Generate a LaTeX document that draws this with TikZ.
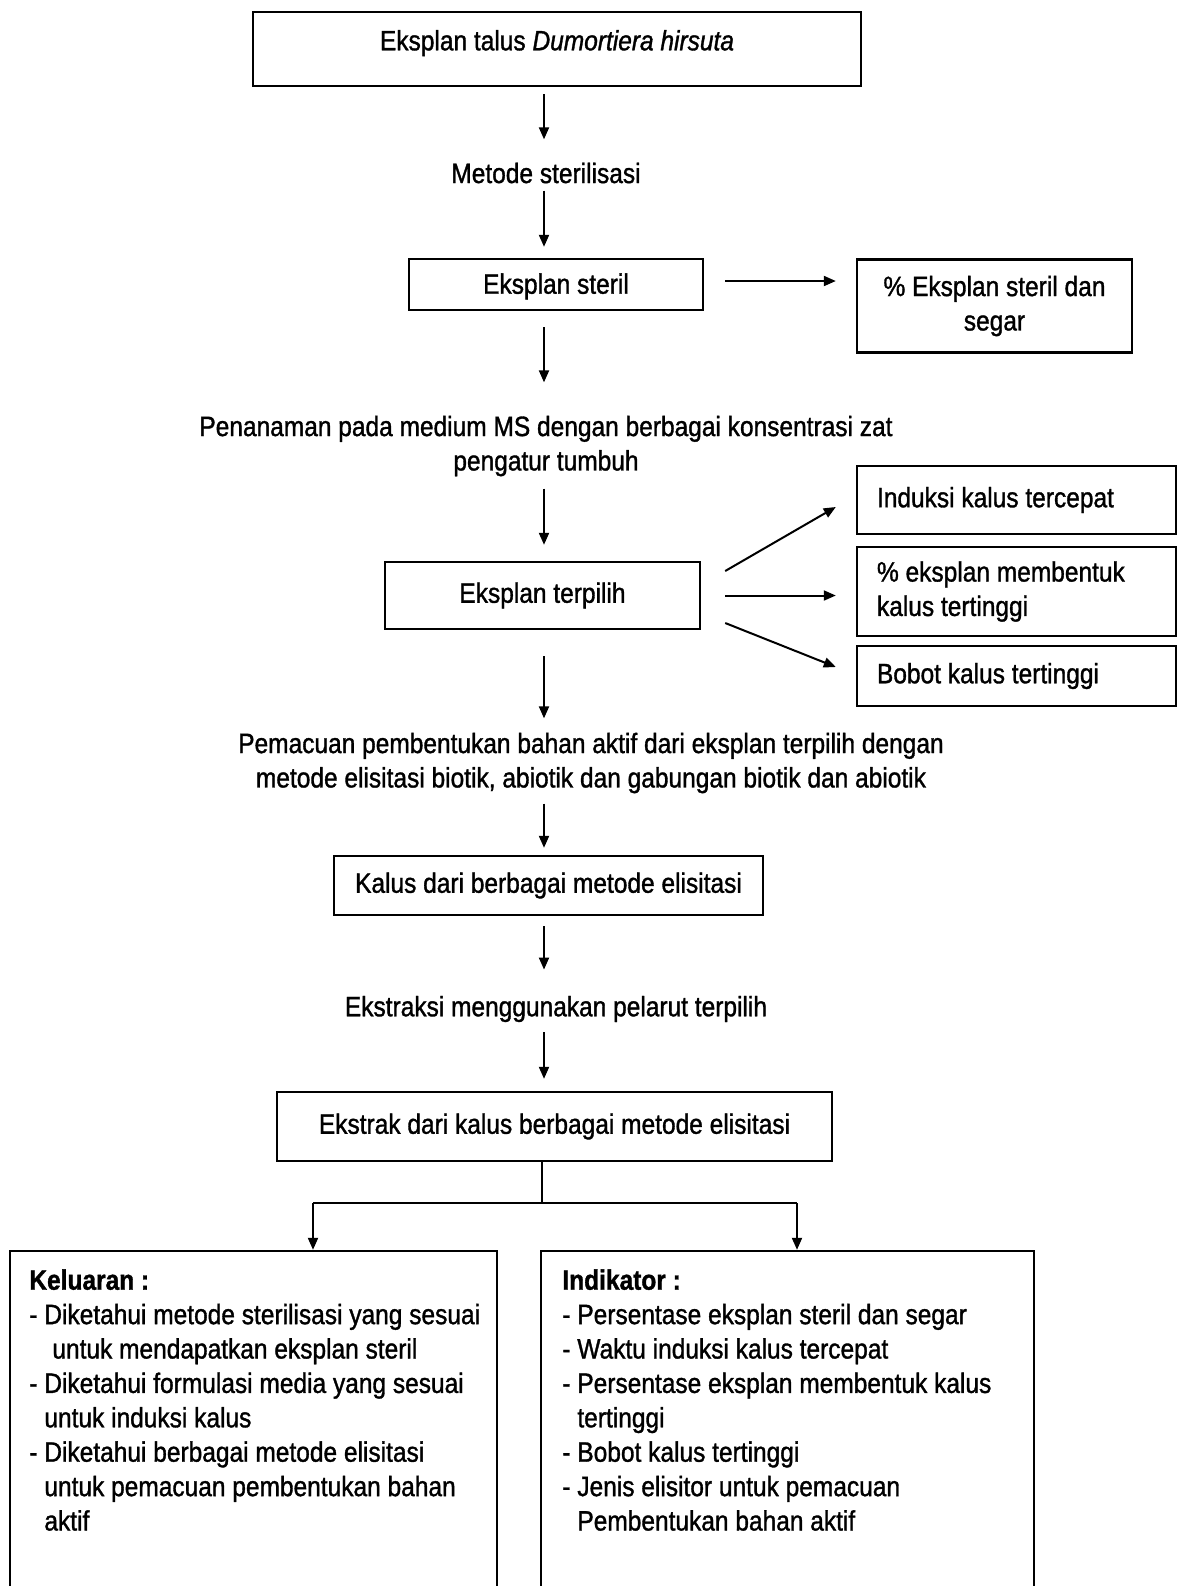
\documentclass[tikz,border=0pt]{standalone}
\usepackage{fontspec}
\setmainfont{Liberation Sans}[FakeStretch=0.875,FakeBold=1.2]
\usetikzlibrary{arrows.meta,calc}
\begin{document}
\begin{tikzpicture}[x=0.5pt,y=-0.5pt,
  every node/.style={font=\fontsize{14}{17.2}\selectfont},
  box/.style={draw,line width=1.2pt,inner sep=0pt,align=center},
  lbox/.style={draw,line width=1.2pt,inner sep=0pt,inner xsep=10pt,align=flush left,text width=#1},
  txt/.style={inner sep=0pt,align=center},
  arr/.style={line width=1pt,-{Triangle[length=6pt,width=5pt]}},
  ln/.style={line width=1pt}]
\useasboundingbox (0,0) rectangle (1184,1586);
\fill[white] (0,0) rectangle (1184,1586);
% nodes
\node[box,minimum width=304pt,minimum height=37pt,text height=10.2pt,text depth=8.9pt] (top) at (557,49) {Eksplan talus \textit{Dumortiera hirsuta}};
\node[txt] (metode) at (546,173) {Metode sterilisasi};
\node[box,minimum width=147pt,minimum height=25.5pt,text height=10.2pt,text depth=1pt] (steril) at (556,284.5) {Eksplan steril};
\node[box,minimum width=137.5pt,minimum height=46.5pt] (pct) at (994.5,306) {\% Eksplan steril dan\\segar};
\node[txt] (tanam) at (546,446) {Penanaman pada medium MS dengan berbagai konsentrasi zat\\pengatur tumbuh};
\node[box,minimum width=157.5pt,minimum height=33.5pt] (pilih) at (542.5,595.5) {Eksplan terpilih};
\node[lbox=139.5pt,minimum height=34pt] (induksi) at (1016.5,500) {Induksi kalus tercepat};
\node[lbox=139.5pt,minimum height=44.5pt] (pct2) at (1016.5,591.5) {\% eksplan membentuk\\kalus tertinggi};
\node[lbox=139.5pt,minimum height=30pt] (bobot) at (1016.5,676) {Bobot kalus tertinggi};
\node[txt] (pacu) at (591,763) {Pemacuan pembentukan bahan aktif dari eksplan terpilih dengan\\metode elisitasi biotik, abiotik dan gabungan biotik dan abiotik};
\node[box,minimum width=214.5pt,minimum height=29.5pt] (kalus) at (548.5,885.5) {Kalus dari berbagai metode elisitasi};
\node[txt] (ekstraksi) at (556,1009) {Ekstraksi menggunakan pelarut terpilih};
\node[box,minimum width=277.5pt,minimum height=34.5pt] (ekstrak) at (554.5,1126.5) {Ekstrak dari kalus berbagai metode elisitasi};
\node[box,minimum width=243.5pt,minimum height=194.5pt] (kel) at (253.5,1445.5) {};
\node[box,minimum width=246.5pt,minimum height=194.5pt] (ind) at (787.5,1445.5) {};
\node[inner sep=0pt,anchor=north west,align=flush left] (keltxt) at (29,1269) {%
\textbf{Keluaran :}\\
- Diketahui metode sterilisasi yang sesuai\\
\hspace*{11.5pt}untuk mendapatkan eksplan steril\\
- Diketahui formulasi media yang sesuai\\
\hspace*{7.5pt}untuk induksi kalus\\
- Diketahui berbagai metode elisitasi\\
\hspace*{7.5pt}untuk pemacuan pembentukan bahan\\
\hspace*{7.5pt}aktif};
\node[inner sep=0pt,anchor=north west,align=flush left] (indtxt) at (562,1269) {%
\textbf{Indikator :}\\
- Persentase eksplan steril dan segar\\
- Waktu induksi kalus tercepat\\
- Persentase eksplan membentuk kalus\\
\hspace*{7.5pt}tertinggi\\
- Bobot kalus tertinggi\\
- Jenis elisitor untuk pemacuan\\
\hspace*{7.5pt}Pembentukan bahan aktif};
% helper coordinates
\coordinate (ax) at (544,0);
\coordinate (j) at (542,1203);
\coordinate (jl) at (313,1203);
\coordinate (jr) at (797,1203);
% vertical arrows
\draw[arr,shorten <=3.5pt,shorten >=11.5pt] (top.south -| ax) -- (metode.north -| ax);
\draw[arr,shorten <=3.5pt,shorten >=5.5pt] (metode.south -| ax) -- (steril.north -| ax);
\draw[arr,shorten <=8pt,shorten >=16.5pt] (steril.south -| ax) -- (tanam.north -| ax);
\draw[arr,shorten <=6pt,shorten >=8pt] (tanam.south -| ax) -- (pilih.north -| ax);
\draw[arr,shorten <=13pt,shorten >=7pt] (pilih.south -| ax) -- (pacu.north -| ax);
\draw[arr,shorten <=5pt,shorten >=3.5pt] (pacu.south -| ax) -- (kalus.north -| ax);
\draw[arr,shorten <=5pt,shorten >=13pt] (kalus.south -| ax) -- (ekstraksi.north -| ax);
\draw[arr,shorten <=5pt,shorten >=6pt] (ekstraksi.south -| ax) -- (ekstrak.north -| ax);
% side arrows
\draw[arr,shorten <=10.5pt,shorten >=10pt] (steril.east |- 0,281) -- (pct.west |- 0,281);
\draw[arr] ([xshift=12pt,yshift=12.25pt]pilih.east) -- ([xshift=-10pt,yshift=-3.5pt]induksi.west);
\draw[arr] ([xshift=12pt]pilih.east) -- ([xshift=-10pt]pct2.west |- pilih.east);
\draw[arr] ([xshift=12pt,yshift=-13.75pt]pilih.east) -- ([xshift=-10pt,yshift=4.5pt]bobot.west);
% branching
\draw[ln] (ekstrak.south -| j) -- (j);
\draw[ln] (jl) -- (jr);
\draw[arr] (jl) -- (jl |- kel.north);
\draw[arr] (jr) -- (jr |- ind.north);
\end{tikzpicture}
\end{document}
